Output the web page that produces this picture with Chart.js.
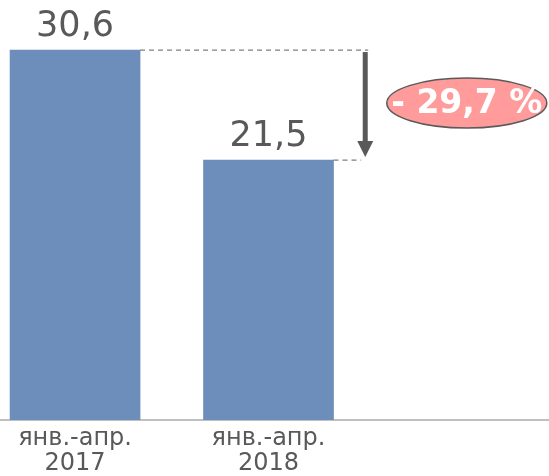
<!DOCTYPE html>
<html>
<head>
<meta charset="utf-8">
<script src="https://cdn.jsdelivr.net/npm/chart.js@4.4.1/dist/chart.umd.min.js"></script>
<style>
  html, body { margin: 0; padding: 0; background: #fff; }
  #wrap { width: 549px; height: 476px; position: relative; }
</style>
</head>
<body>
<div id="wrap"><canvas id="chart" width="549" height="476"></canvas></div>
<script>
// --- data ---
const categories = [['янв.-апр.', '2017'], ['янв.-апр.', '2018']];
const values = [30.6, 21.5];
const valueLabels = ['30,6', '21,5'];
const changeLabel = '- 29,7 %';

const barColor = '#6d8dba';
const textGray = '#595959';

// value labels above bars + dashed guides, arrow and change bubble
const annotate = {
    id: 'annotate',
    afterDatasetsDraw(chart) {
        const ctx = chart.ctx;
        const bars = chart.getDatasetMeta(0).data;
        const x = chart.scales.x;

        ctx.save();
        // numbers over the bars
        ctx.fillStyle = textGray;
        ctx.font = '35px "DejaVu Sans", sans-serif';
        ctx.textAlign = 'center';
        ctx.textBaseline = 'alphabetic';
        bars.forEach((b, i) => ctx.fillText(valueLabels[i], b.x, b.y - 14));

        // dashed guides from the bar tops to the arrow
        const arrowX = x.getPixelForValue(1.5);
        const half = bars[0].width / 2;
        ctx.strokeStyle = '#7f7f7f';
        ctx.lineWidth = 1.2;
        ctx.setLineDash([5, 4]);
        ctx.beginPath();
        ctx.moveTo(bars[0].x + half, bars[0].y);
        ctx.lineTo(arrowX + 3, bars[0].y);
        ctx.moveTo(bars[1].x + half, bars[1].y);
        ctx.lineTo(arrowX - 4, bars[1].y);
        ctx.stroke();
        ctx.setLineDash([]);

        // down arrow
        const top = bars[0].y + 2, bottom = bars[1].y - 3;
        ctx.strokeStyle = textGray;
        ctx.fillStyle = textGray;
        ctx.lineWidth = 5;
        ctx.beginPath();
        ctx.moveTo(arrowX, top);
        ctx.lineTo(arrowX, bottom - 14);
        ctx.stroke();
        ctx.beginPath();
        ctx.moveTo(arrowX - 8, bottom - 16);
        ctx.lineTo(arrowX + 8, bottom - 16);
        ctx.lineTo(arrowX, bottom);
        ctx.closePath();
        ctx.fill();

        // change bubble
        const cx = x.getPixelForValue(2.025);
        const cy = (bars[0].y + bars[1].y) / 2 - 2;
        ctx.beginPath();
        ctx.ellipse(cx, cy, 80, 25, 0, 0, Math.PI * 2);
        ctx.fillStyle = '#ff9b9b';
        ctx.fill();
        ctx.lineWidth = 1.5;
        ctx.strokeStyle = '#5a5a5a';
        ctx.stroke();
        ctx.fillStyle = '#ffffff';
        ctx.font = 'bold 33px "DejaVu Sans", sans-serif';
        ctx.textBaseline = 'middle';
        ctx.fillText(changeLabel, cx, cy + 1);
        ctx.restore();
    }
};

new Chart(document.getElementById('chart'), {
    type: 'bar',
    data: {
        datasets: [{
            data: values.map((v, i) => ({ x: i, y: v })),
            backgroundColor: barColor,
            barThickness: 130
        }]
    },
    options: {
        responsive: false,
        animation: false,
        layout: { padding: 0 },
        plugins: { legend: { display: false }, tooltip: { enabled: false } },
        scales: {
            x: {
                type: 'linear',
                offset: false,
                min: -0.388,
                max: 2.45,
                grid: { display: false, drawTicks: false },
                border: { display: true, color: '#c0c0c0', width: 2 },
                afterBuildTicks: (axis) => { axis.ticks = categories.map((c, i) => ({ value: i })); },
                afterFit: (axis) => { axis.height = 56; },
                ticks: {
                    color: textGray,
                    font: { family: '"DejaVu Sans", sans-serif', size: 24, lineHeight: 1.05 },
                    padding: 6,
                    maxRotation: 0,
                    autoSkip: false,
                    callback: (v) => categories[v]
                }
            },
            y: {
                display: false,
                min: 0,
                max: 34.74
            }
        }
    },
    plugins: [annotate]
});
</script>
</body>
</html>
